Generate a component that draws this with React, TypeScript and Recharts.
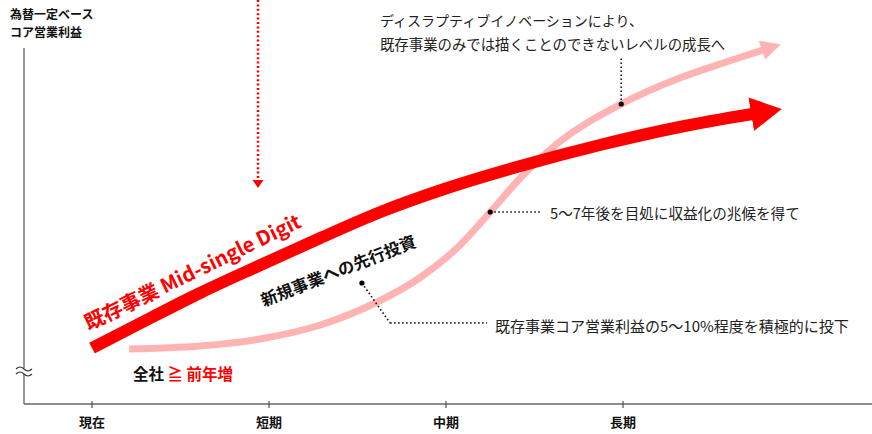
import React from 'react';
import { ComposedChart, Line, XAxis, YAxis, ReferenceLine, ReferenceDot } from 'recharts';

const FONT = '"Noto Sans CJK JP", "Noto Sans", sans-serif';
const RED = '#ff0000';
const PINK = '#ffb3b3';

// x axis periods
const periods = ['現在', '短期', '中期', '長期'];
const periodTicks = [0, 1, 2, 3];

// existing business (red arrow)
const existingX = [0, 0.33, 0.61, 0.94, 1.29, 1.63, 1.99, 2.42, 2.87, 3.32, 3.73];
const existingY = [14, 21.5, 27.75, 34.5, 41.5, 48, 53.75, 59.5, 64.75, 69.25, 72.5];

// new business (pink S-curve)
const newX = [0.21, 0.61, 0.95, 1.29, 1.6, 1.85, 2.08, 2.25, 2.42, 2.64, 2.99, 3.32, 3.6, 3.79];
const newY = [13.75, 14.5, 16.25, 19.75, 25.25, 31.5, 39.75, 48, 56.5, 65.5, 75, 81.5, 85.75, 88.5];

const existingData = existingX.map((x, i) => ({ x, v: existingY[i] }));
const newData = newX.map((x, i) => ({ x, v: newY[i] }));

const X_MIN = -0.3842;
const X_MAX = 4.4068;
const Y_MAX = 101;

const Tick = (p: any) => {
  const { x, y, payload } = p;
  return (
    <g>
      <line x1={x} x2={x} y1={y - 3} y2={y + 4} stroke="#555" strokeWidth={1.2} />
      <text x={x} y={y + 17} textAnchor="middle" dominantBaseline="central" fontSize={13} fontWeight="bold" fill="#111" fontFamily={FONT}>
        {periods[payload.value]}
      </text>
    </g>
  );
};

const textDot = (key: string, x: number, y: number, render: (cx: number, cy: number) => any) => (
  <ReferenceDot key={key} x={x} y={y} r={0} ifOverflow="visible" isFront shape={(p: any) => render(p.cx, p.cy)} />
);

export default function App() {
  return (
    <div style={{ position: 'fixed', left: 0, top: 0, background: '#fff' }}>
      <svg width={0} height={0} style={{ position: 'absolute' }}>
        <defs>
          <marker id="arrowRed" viewBox="0 0 31 34" markerWidth={31} markerHeight={34} refX={1} refY={17} orient="auto" markerUnits="userSpaceOnUse">
            <path d="M0,0 L31,17 L0,34 Z" fill={RED} />
          </marker>
          <marker id="arrowPink" viewBox="0 0 20 20" markerWidth={20} markerHeight={20} refX={1} refY={10} orient="auto" markerUnits="userSpaceOnUse">
            <path d="M0,0 L20,10 L0,20 Z" fill={PINK} />
          </marker>
        </defs>
      </svg>
      <ComposedChart width={872} height={434} margin={{ top: 0, right: 0, bottom: 0, left: 24 }}>
        <XAxis
          dataKey="x"
          type="number"
          domain={[X_MIN, X_MAX]}
          ticks={periodTicks}
          interval={0}
          allowDataOverflow
          height={30}
          tickSize={0}
          tickMargin={0}
          tickLine={false}
          axisLine={{ stroke: '#666', strokeWidth: 1.5 }}
          tick={<Tick />}
        />
        <YAxis type="number" domain={[0, Y_MAX]} hide allowDataOverflow />

        {/* y axis line */}
        <ReferenceLine segment={[{ x: X_MIN, y: 89 }, { x: X_MIN, y: 0 }]} stroke="#555" strokeWidth={1.2} ifOverflow="visible" />

        <Line data={newData} dataKey="v" type="monotone" stroke={PINK} strokeWidth={7} dot={false} isAnimationActive={false} markerEnd="url(#arrowPink)" />
        <Line data={existingData} dataKey="v" type="monotone" stroke={RED} strokeWidth={12} dot={false} isAnimationActive={false} markerEnd="url(#arrowRed)" />

        {/* red dotted vertical arrow at 短期 */}
        <ReferenceLine segment={[{ x: 0.938, y: Y_MAX }, { x: 0.938, y: 56 }]} stroke={RED} strokeWidth={2.5} strokeDasharray="2 2.4" ifOverflow="visible" />
        {textDot('redTri', 0.938, 54, (cx, cy) => (
          <polygon points={`${cx - 5.5},${cy - 8} ${cx + 5.5},${cy - 8} ${cx},${cy}`} fill={RED} />
        ))}

        {/* annotation leaders */}
        <ReferenceLine segment={[{ x: newX[10], y: newY[10] }, { x: newX[10], y: 86.5 }]} stroke="#111" strokeWidth={1.6} strokeDasharray="1.6 2.4" ifOverflow="visible" />
        <ReferenceLine segment={[{ x: newX[7], y: newY[7] }, { x: 2.531, y: newY[7] }]} stroke="#111" strokeWidth={1.6} strokeDasharray="1.6 2.4" ifOverflow="visible" />
        <ReferenceLine segment={[{ x: 1.525, y: 30.25 }, { x: 1.684, y: 20.25 }]} stroke="#111" strokeWidth={1.6} strokeDasharray="1.6 2.4" ifOverflow="visible" />
        <ReferenceLine segment={[{ x: 1.684, y: 20.25 }, { x: 2.232, y: 20.25 }]} stroke="#111" strokeWidth={1.6} strokeDasharray="1.6 2.4" ifOverflow="visible" />
        <ReferenceDot x={newX[10]} y={newY[10]} r={2.6} fill="#000" stroke="none" ifOverflow="visible" />
        <ReferenceDot x={newX[7]} y={newY[7]} r={2.6} fill="#000" stroke="none" ifOverflow="visible" />
        <ReferenceDot x={1.525} y={30.25} r={2.6} fill="#000" stroke="none" ifOverflow="visible" />

        {/* y-axis title */}
        {textDot('title1', -0.463, 97.6, (cx, cy) => (
          <text x={cx} y={cy} fontSize={12} fontWeight="bold" fill="#111" fontFamily={FONT} dominantBaseline="central">為替一定ベース</text>
        ))}
        {textDot('title2', -0.463, 93.25, (cx, cy) => (
          <text x={cx} y={cy} fontSize={12} fontWeight="bold" fill="#111" fontFamily={FONT} dominantBaseline="central">コア営業利益</text>
        ))}

        {/* axis break */}
        {textDot('break', X_MIN, 8.25, (cx, cy) => (
          <g>
            <rect x={cx - 9} y={cy - 3} width={18} height={6} fill="#fff" />
            <path d={`M${cx - 8},${cy - 2} q4,-4 8,0 t8,0`} fill="none" stroke="#333" strokeWidth={1.1} />
            <path d={`M${cx - 8},${cy + 3} q4,-4 8,0 t8,0`} fill="none" stroke="#333" strokeWidth={1.1} />
          </g>
        ))}

        {/* annotations */}
        {textDot('a1', 1.627, 96, (cx, cy) => (
          <text x={cx} y={cy} fontSize={14} fill="#222" fontFamily={FONT} dominantBaseline="central">ディスラプティブイノベーションにより、</text>
        ))}
        {textDot('a1b', 1.627, 90.25, (cx, cy) => (
          <text x={cx} y={cy} fontSize={14.4} fill="#222" fontFamily={FONT} dominantBaseline="central">既存事業のみでは描くことのできないレベルの成長へ</text>
        ))}
        {textDot('a2', 2.588, 48, (cx, cy) => (
          <text x={cx} y={cy} fontSize={14.6} fill="#222" fontFamily={FONT} dominantBaseline="central">5〜7年後を目処に収益化の兆候を得て</text>
        ))}
        {textDot('a3', 2.277, 19.75, (cx, cy) => (
          <text x={cx} y={cy} fontSize={15} fill="#222" fontFamily={FONT} dominantBaseline="central">既存事業コア営業利益の5〜10%程度を積極的に投下</text>
        ))}
        {textDot('redLabel', 0.565, 33.25, (cx, cy) => (
          <text x={cx} y={cy} fontSize={20} fontWeight="bold" fill={RED} fontFamily={FONT} textAnchor="middle" dominantBaseline="central" transform={`rotate(-26 ${cx} ${cy})`}>既存事業 Mid-single Digit</text>
        ))}
        {textDot('blackLabel', 1.39, 33.5, (cx, cy) => (
          <text x={cx} y={cy} fontSize={16.5} fontWeight="bold" fill="#111" fontFamily={FONT} textAnchor="middle" dominantBaseline="central" transform={`rotate(-21.5 ${cx} ${cy})`}>新規事業への先行投資</text>
        ))}
        {textDot('total', 0.232, 7.75, (cx, cy) => (
          <text x={cx} y={cy} fontSize={15.5} fontWeight="bold" fill="#111" fontFamily={FONT} dominantBaseline="central">
            全社 <tspan fill={RED}>≧ 前年増</tspan>
          </text>
        ))}
      </ComposedChart>
    </div>
  );
}
